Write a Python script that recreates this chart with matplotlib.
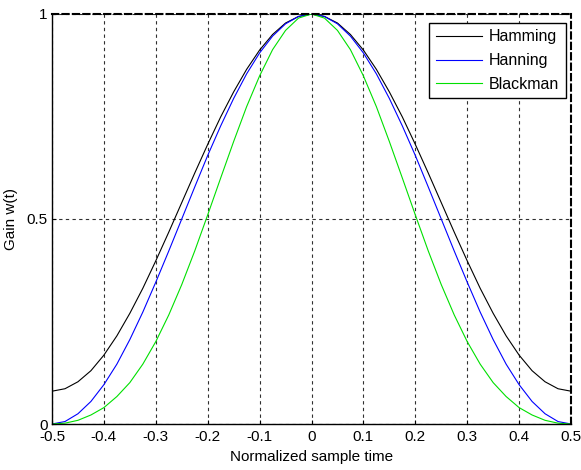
import matplotlib
matplotlib.use('Agg')
import matplotlib.pyplot as plt

# sample times (read at 0.025 steps)
t = [-0.5, -0.475, -0.45, -0.425, -0.4, -0.375, -0.35, -0.325, -0.3, -0.275,
     -0.25, -0.225, -0.2, -0.175, -0.15, -0.125, -0.1, -0.075, -0.05, -0.025,
     0.0, 0.025, 0.05, 0.075, 0.1, 0.125, 0.15, 0.175, 0.2, 0.225,
     0.25, 0.275, 0.3, 0.325, 0.35, 0.375, 0.4, 0.425, 0.45, 0.475, 0.5]

hamming = [0.080, 0.086, 0.103, 0.130, 0.168, 0.215, 0.270, 0.331, 0.398, 0.468,
           0.540, 0.612, 0.682, 0.749, 0.810, 0.865, 0.912, 0.950, 0.978, 0.994,
           1.000, 0.994, 0.978, 0.950, 0.912, 0.865, 0.810, 0.749, 0.682, 0.612,
           0.540, 0.468, 0.398, 0.331, 0.270, 0.215, 0.168, 0.130, 0.103, 0.086, 0.080]

hanning = [0.000, 0.006, 0.025, 0.055, 0.096, 0.146, 0.206, 0.273, 0.346, 0.422,
           0.500, 0.578, 0.655, 0.727, 0.794, 0.854, 0.905, 0.946, 0.976, 0.994,
           1.000, 0.994, 0.976, 0.946, 0.905, 0.854, 0.794, 0.727, 0.655, 0.578,
           0.500, 0.422, 0.346, 0.273, 0.206, 0.146, 0.096, 0.055, 0.025, 0.006, 0.000]

blackman = [0.000, 0.002, 0.009, 0.022, 0.040, 0.067, 0.101, 0.146, 0.201, 0.266,
            0.340, 0.422, 0.510, 0.600, 0.689, 0.774, 0.849, 0.913, 0.960, 0.990,
            1.000, 0.990, 0.960, 0.913, 0.849, 0.774, 0.689, 0.600, 0.510, 0.422,
            0.340, 0.266, 0.201, 0.146, 0.101, 0.067, 0.040, 0.022, 0.009, 0.002, 0.000]

xticks = [-0.5, -0.4, -0.3, -0.2, -0.1, 0, 0.1, 0.2, 0.3, 0.4, 0.5]
xticklabels = ['-0.5', '-0.4', '-0.3', '-0.2', '-0.1', '0', '0.1', '0.2', '0.3', '0.4', '0.5']
yticks = [0, 0.5, 1]
yticklabels = ['0', '0.5', '1']

plt.rcParams['font.family'] = ['Liberation Sans', 'DejaVu Sans']
plt.rcParams['font.size'] = 11

fig = plt.figure(figsize=(5.81, 4.70), dpi=100)
ax = fig.add_axes([52 / 581, 46 / 470, 519 / 581, 410 / 470])

ax.plot(t, hamming, color='black', lw=0.8, label='Hamming')
ax.plot(t, hanning, color='#0000ff', lw=0.8, label='Hanning')
ax.plot(t, blackman, color='#00e000', lw=0.8, label='Blackman')

ax.set_xlim(-0.5, 0.5)
ax.set_ylim(0, 1)
ax.set_xticks(xticks)
ax.set_xticklabels(xticklabels)
ax.set_yticks(yticks)
ax.set_yticklabels(yticklabels)
ax.tick_params(direction='in', length=3, width=0.8, colors='black', labelsize=11)
ax.tick_params(axis='x', pad=4)
ax.tick_params(axis='y', pad=3)

# MATLAB style dotted grid
ax.grid(True, color='#303030', linestyle=(0, (3, 3)), lw=0.8)
for s in ['top', 'right']:
    ax.spines[s].set_linestyle((0, (3, 2)))
    ax.spines[s].set_linewidth(1.5)
for s in ['left', 'bottom']:
    ax.spines[s].set_linewidth(1.0)

ax.set_xlabel('Normalized sample time', labelpad=5)
ax.set_ylabel('Gain w(t)', labelpad=6)

leg = ax.legend(loc='upper right', fancybox=False, framealpha=1, edgecolor='black',
                handlelength=2.9, handletextpad=0.45, borderpad=0.4, labelspacing=0.55,
                borderaxespad=0, bbox_to_anchor=(0.990, 0.978), fontsize=11.5)
leg.get_frame().set_linewidth(1.0)

fig.savefig('out.png', dpi=100)
